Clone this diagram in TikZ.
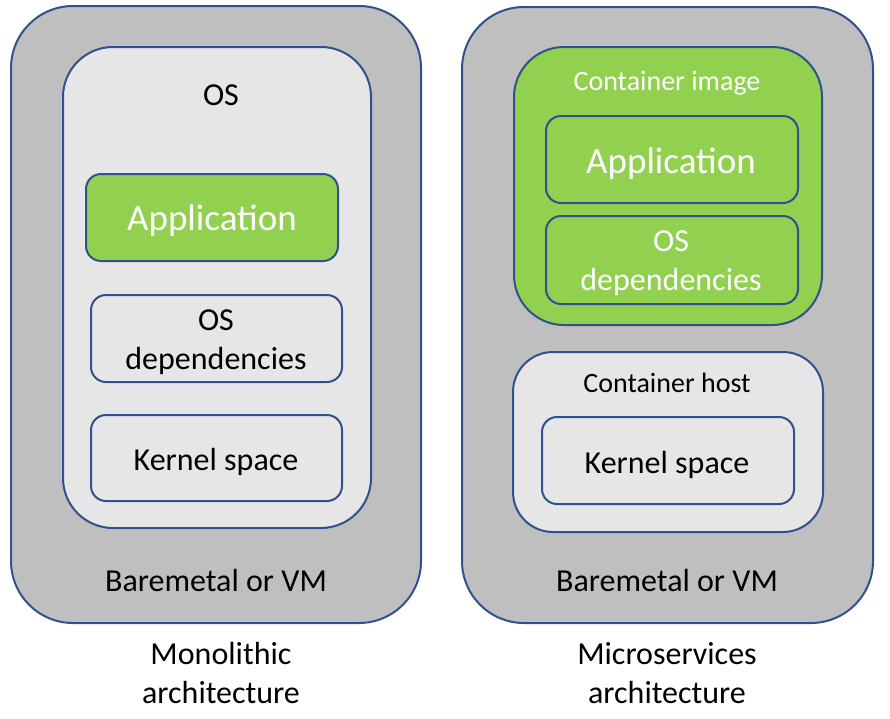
\documentclass[tikz,border=0pt]{standalone}
\usepackage{fontspec}
\setmainfont{Carlito}
\definecolor{bord}{RGB}{47,82,143}
\definecolor{outerg}{RGB}{191,191,191}
\definecolor{innerg}{RGB}{231,230,230}
\definecolor{appg}{RGB}{146,208,80}
\begin{document}
\begin{tikzpicture}[x=1pt,y=-1pt,
  box/.style={draw=bord, line width=2pt, rectangle, inner sep=0pt},
  txt/.style={inner sep=0pt, align=center, font=\fontsize{32}{39}\selectfont},
  big/.style={inner sep=0pt, align=center, text=white, font=\fontsize{37}{44}\selectfont},
  mid/.style={inner sep=0pt, align=center, font=\fontsize{28}{34}\selectfont}]
\useasboundingbox (0,0) rectangle (890,718);
% left column
\node[box, fill=outerg, rounded corners=62pt, minimum width=410pt, minimum height=617pt] (lout) at (216,314.5) {};
\node[box, fill=innerg, rounded corners=50pt, minimum width=308pt, minimum height=481pt] (los) at (217,287.5) {};
\node[box, fill=appg, rounded corners=15pt, minimum width=252pt, minimum height=87pt] (lapp) at (212,217.5) {};
\node[box, fill=innerg, rounded corners=15pt, minimum width=251pt, minimum height=87pt] (ldep) at (216.5,338.5) {};
\node[box, fill=innerg, rounded corners=15pt, minimum width=251pt, minimum height=86pt] (lker) at (216.5,458) {};
\node[txt] (tos) at (221,95) {OS};
\node[big] (tlapp) at (212,221) {Application};
\node[txt] (tldep) at (216,342) {OS\\dependencies};
\node[txt] (tlker) at (216,462) {Kernel space};
\node[txt] (tlbm) at (216,580) {Baremetal or VM};
\node[txt] (tmono) at (221,673) {Monolithic\\architecture};
% right column
\node[box, fill=outerg, rounded corners=62pt, minimum width=411pt, minimum height=616pt] (rout) at (667.5,315) {};
\node[box, fill=appg, rounded corners=50pt, minimum width=308pt, minimum height=278pt] (rimg) at (668,186) {};
\node[box, fill=appg, rounded corners=15pt, minimum width=252pt, minimum height=87pt] (rapp) at (672,159.5) {};
\node[box, fill=appg, rounded corners=15pt, minimum width=252pt, minimum height=88pt] (rdep) at (672,260) {};
\node[box, fill=innerg, rounded corners=40pt, minimum width=310pt, minimum height=180pt] (rhost) at (668,442) {};
\node[box, fill=innerg, rounded corners=15pt, minimum width=252pt, minimum height=87pt] (rker) at (668,460.5) {};
\node[mid, text=white] (timg) at (667,83) {Container image};
\node[big] (trapp) at (671,164) {Application};
\node[txt, text=white] (trdep) at (671,263) {OS\\dependencies};
\node[mid] (thost) at (667,383) {Container host};
\node[txt] (trker) at (667,465) {Kernel space};
\node[txt] (trbm) at (667,580) {Baremetal or VM};
\node[txt] (tmicro) at (667,673) {Microservices\\architecture};
\end{tikzpicture}
\end{document}
